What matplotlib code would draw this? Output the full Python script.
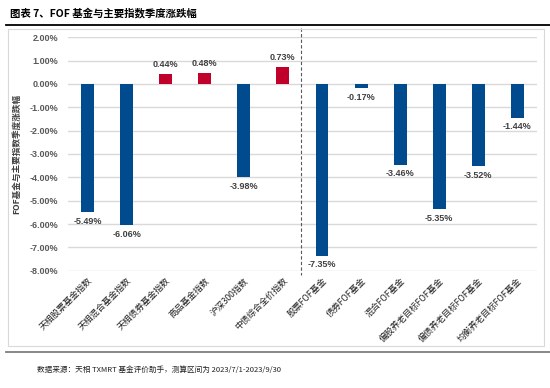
"""FOF funds vs major indices: quarterly returns (2023 Q3)."""

import matplotlib
matplotlib.use("Agg")
import matplotlib.pyplot as plt
from matplotlib.lines import Line2D
from matplotlib.patches import Rectangle

# ---------------------------------------------------------------------------
# Data
# ---------------------------------------------------------------------------
categories = [
    "天相股票基金指数", "天相混合基金指数", "天相债券基金指数", "商品基金指数",
    "沪深300指数", "中债综合全价指数", "股票FOF基金", "债券FOF基金",
    "混合FOF基金", "偏股养老目标FOF基金", "偏债养老目标FOF基金", "均衡养老目标FOF基金",
]
returns = [-5.49, -6.06, 0.44, 0.48, -3.98, 0.73, -7.35, -0.17, -3.46, -5.35, -3.52, -1.44]
yticks = [2, 1, 0, -1, -2, -3, -4, -5, -6, -7, -8]
n_index = 6  # first six are indices, the rest are FOF groups

title = "图表 7、FOF 基金与主要指数季度涨跌幅"
ylabel = "FOF基金与主要指数季度涨跌幅"
source = "数据来源：天相 TXMRT 基金评价助手，测算区间为 2023/7/1-2023/9/30"

BLUE = "#004B8D"
RED = "#C0002A"
CJK = ["Noto Sans CJK SC", "DejaVu Sans"]
NUM = ["Liberation Sans", "DejaVu Sans"]

# ---------------------------------------------------------------------------
# Figure
# ---------------------------------------------------------------------------
fig = plt.figure(figsize=(5.5, 3.88), dpi=100)
ax = fig.add_axes([0.1236, 0.3023, 0.8527, 0.6016])

x = list(range(len(categories)))
colors = [RED if v > 0 else BLUE for v in returns]
ax.bar(x, returns, width=0.33, color=colors, zorder=3)

for xi, v in zip(x, returns):
    off = 0.2 if v > 0 else -0.2
    ax.text(xi, v + off, f"{v:.2f}%", ha="center", va="bottom" if v > 0 else "top",
            fontsize=6.5, fontweight="bold", color="#404040", family=NUM)

ax.set_xlim(-0.5, len(categories) - 0.5)
ax.set_ylim(-8, 2)
ax.set_yticks(yticks)
ax.set_yticklabels([f"{t:.2f}%" for t in yticks], fontsize=6.5, fontweight="bold",
                   color="#595959", family=NUM)
ax.yaxis.grid(True, color="#D9D9D9", linewidth=1.0, zorder=0)
ax.set_axisbelow(True)
ax.tick_params(axis="y", length=0, pad=7)
ax.tick_params(axis="x", length=0, pad=4)
ax.set_xticks(x)
ax.set_xticklabels(categories, rotation=45, ha="right", rotation_mode="anchor",
                   fontsize=6.3, color="#222222", family=CJK)
for s in ax.spines.values():
    s.set_visible(False)

ax.set_ylabel(ylabel, fontsize=6.2, fontweight="bold", color="#404040", family=CJK)
ax.yaxis.set_label_coords(-0.10, 0.5)

# dashed divider between indices and FOF groups
ax.plot([n_index - 0.55, n_index - 0.55], [2.4, -8.2], ls=(0, (3, 2)), color="#595959",
        lw=0.8, clip_on=False, zorder=4)

# frame, rules and texts
fig.patches.append(Rectangle((0.0145, 0.108), 0.975, 0.817, transform=fig.transFigure,
                             fill=False, edgecolor="#D9D9D9", linewidth=0.8))
fig.lines.append(Line2D([0.01, 1.0], [0.936, 0.936], transform=fig.transFigure,
                        color="black", linewidth=1.3))
fig.lines.append(Line2D([0.01, 1.0], [0.093, 0.093], transform=fig.transFigure,
                        color="#7F7F7F", linewidth=1.3))
fig.text(0.018, 0.967, title, fontsize=7.5, fontweight="bold", va="center", family=CJK)
fig.text(0.067, 0.047, source, fontsize=5.5, va="center", color="#222222", family=CJK)

fig.savefig("out.png", dpi=100)
